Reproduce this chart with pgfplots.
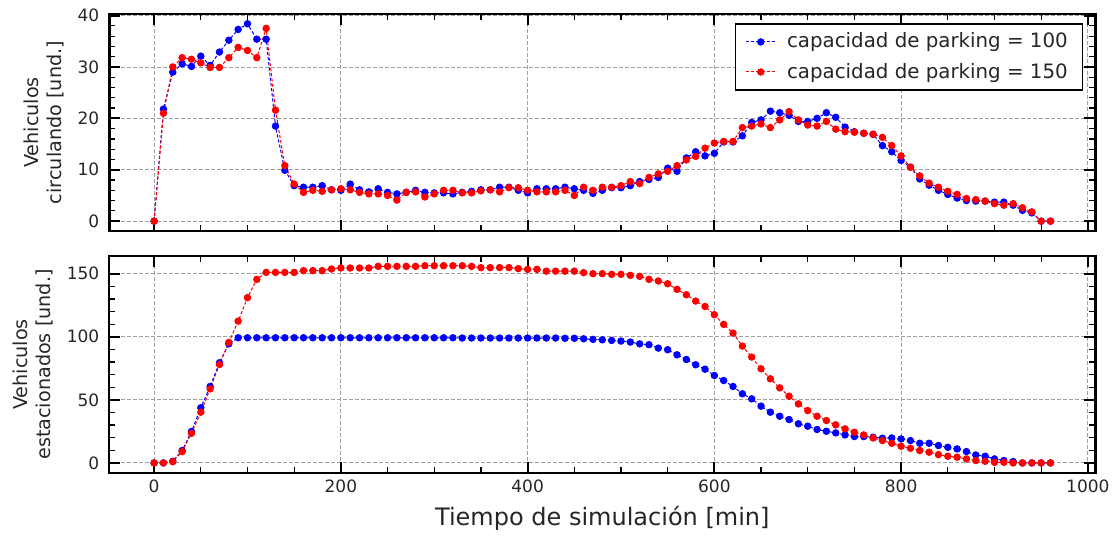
\documentclass[border=0pt]{standalone}
\usepackage{fontspec}
\setmainfont{DejaVu Sans}
\usepackage{pgfplots}
\usepackage{pgfplotstable}
\pgfplotsset{compat=1.18}

\pgfplotstableread{
x y
0 0
10 21.8
20 29.0
30 30.6
40 30.1
50 32.1
60 30.3
70 32.9
80 35.2
90 37.3
100 38.4
110 35.4
120 35.4
130 18.5
140 9.9
150 6.9
160 6.6
170 6.6
180 6.9
190 6.1
200 6.0
210 7.2
220 6.1
230 5.7
240 6.3
250 5.6
260 5.3
270 5.6
280 6.0
290 5.6
300 5.5
310 5.5
320 5.3
330 5.6
340 5.8
350 6.1
360 6.1
370 6.6
380 6.6
390 6.0
400 5.5
410 6.3
420 6.3
430 6.3
440 6.6
450 6.3
460 6.0
470 5.4
480 6.0
490 6.5
500 6.5
510 6.9
520 7.7
530 8.1
540 8.5
550 10.3
560 9.7
570 12.3
580 13.5
590 12.7
600 13.2
610 15.4
620 15.4
630 16.6
640 19.2
650 19.7
660 21.4
670 21.1
680 20.6
690 19.4
700 19.4
710 20.0
720 21.1
730 20.2
740 18.3
750 17.4
760 17.1
770 16.9
780 14.7
790 13.5
800 11.8
810 10.5
820 8.2
830 7.0
840 6.0
850 5.2
860 4.5
870 4.0
880 3.9
890 3.9
900 3.7
910 3.7
920 3.1
930 2.1
940 1.6
950 0
960 0
}\circA

\pgfplotstableread{
x y
0 0
10 21.0
20 30.0
30 31.8
40 31.5
50 30.8
60 29.9
70 29.9
80 31.8
90 33.8
100 33.2
110 31.8
120 37.5
130 21.6
140 10.8
150 7.2
160 5.6
170 6.0
180 5.8
190 6.1
200 6.3
210 6.1
220 5.6
230 5.3
240 5.3
250 5.0
260 4.1
270 5.6
280 5.7
290 4.7
300 5.3
310 6.0
320 6.0
330 5.5
340 5.5
350 5.9
360 6.1
370 5.7
380 6.5
390 6.5
400 6.0
410 5.7
420 5.7
430 5.7
440 6.0
450 5.0
460 6.6
470 6.0
480 6.6
490 6.6
500 6.9
510 7.7
520 7.3
530 8.5
540 9.2
550 9.7
560 10.8
570 11.9
580 12.6
590 14.2
600 15.2
610 15.5
620 15.5
630 18.2
640 18.5
650 18.9
660 18.2
670 19.7
680 21.3
690 19.7
700 18.7
710 18.5
720 19.4
730 17.9
740 17.4
750 17.3
760 17.1
770 16.9
780 16.3
790 14.7
800 12.7
810 10.5
820 8.8
830 7.4
840 6.6
850 5.8
860 5.2
870 4.4
880 4.2
890 3.9
900 3.4
910 3.1
920 3.4
930 2.6
940 1.8
950 0
960 0
}\circB

\pgfplotstableread{
x y
0 0
10 0
20 1.3
30 9.8
40 24.9
50 43.7
60 60.6
70 79.4
80 94.4
90 99.2
100 99.2
110 99.2
120 99.2
130 99.2
140 99.2
150 99.2
160 99.2
170 99.2
180 99.2
190 99.2
200 99.2
210 99.2
220 99.2
230 99.2
240 99.2
250 99.2
260 99.2
270 99.2
280 99.2
290 99.2
300 99.2
310 99.2
320 99.2
330 99.0
340 99.0
350 99.0
360 99.0
370 99.0
380 99.0
390 99.0
400 99.0
410 99.0
420 99.0
430 99.0
440 98.8
450 98.8
460 98.4
470 97.9
480 97.6
490 97.1
500 96.6
510 95.8
520 94.4
530 93.7
540 91.0
550 89.7
560 85.7
570 82.0
580 77.8
590 74.3
600 69.3
610 65.3
620 60.6
630 54.8
640 50.8
650 45.0
660 40.2
670 37.0
680 34.4
690 31.0
700 29.1
710 26.5
720 25.1
730 23.8
740 22.2
750 20.9
760 20.9
770 20.4
780 19.6
790 19.8
800 19.0
810 17.7
820 15.6
830 15.6
840 13.8
850 12.4
860 11.1
870 9.0
880 6.3
890 5.3
900 3.2
910 1.9
920 1.1
930 0
940 0
950 0
960 0
}\parkA

\pgfplotstableread{
x y
0 0
10 0
20 1.0
30 9.0
40 23.5
50 40.2
60 58.7
70 78.0
80 95.5
90 112.4
100 131.0
110 145.5
120 151.0
130 151.0
140 151.0
150 151.0
160 152.4
170 152.4
180 152.4
190 153.7
200 154.5
210 154.5
220 154.5
230 154.5
240 155.8
250 155.8
260 155.8
270 155.8
280 155.8
290 156.3
300 156.3
310 156.3
320 156.3
330 156.3
340 155.8
350 154.8
360 154.8
370 154.8
380 154.8
390 154.0
400 153.4
410 153.4
420 152.0
430 152.0
440 152.0
450 152.0
460 150.8
470 150.0
480 150.0
490 149.5
500 149.5
510 148.7
520 147.9
530 145.5
540 144.2
550 142.0
560 137.6
570 133.3
580 128.3
590 124.0
600 117.5
610 109.8
620 102.9
630 92.6
640 83.9
650 74.6
660 66.7
670 59.5
680 52.9
690 46.8
700 41.5
710 37.0
720 33.6
730 30.2
740 27.0
750 24.3
760 22.2
770 19.8
780 17.7
790 15.6
800 13.2
810 11.6
820 9.8
830 8.5
840 6.6
850 5.3
860 4.5
870 3.2
880 1.9
890 1.3
900 0.5
910 0.5
920 0
930 0
940 0
950 0
960 0
}\parkB

\pgfplotsset{
  myax/.style={
    scale only axis,
    width=493pt, height=108.5pt,
    xmin=-48, xmax=1008,
    xtick={0,200,...,1000},
    minor x tick num=3,
    minor y tick num=4,
    tick align=inside,
    major tick length=5.5pt,
    minor tick length=3pt,
    every major tick/.append style={line width=1pt, black},
    every minor tick/.append style={line width=0.6pt, black},
    axis line style={line width=1.2pt, black},
    grid=major,
    major grid style={dash pattern=on 2pt off 1pt, gray!75, line width=0.45pt},
    tick label style={font=\fontsize{8.5}{10}\selectfont, text=black!85},
    label style={font=\fontsize{9.6}{11.5}\selectfont, text=black!85},
    yticklabel style={xshift=-1.5pt},
    /pgf/number format/assume math mode=true,
    /pgf/number format/set thousands separator={},
    scaled ticks=false,
    ylabel style={align=center},
  },
  blueline/.style={color=blue, line width=0.5pt, dash pattern=on 1.6pt off 1pt,
    mark=*, mark size=1.6pt, mark options={solid, fill=blue, draw=blue}},
  redline/.style={color=red, line width=0.5pt, dash pattern=on 1.6pt off 1pt,
    mark=*, mark size=1.6pt, mark options={solid, fill=red, draw=red}},
}

\begin{document}
\begin{tikzpicture}
\path[use as bounding box] (-54.65pt,7pt) rectangle (504.35pt,-262pt);
\begin{axis}[myax,
  at={(0,0)}, anchor=north west, name=top,
  ymin=-1.92, ymax=40.3,
  ytick={0,10,...,40},
  xticklabels={},
  ylabel={Vehiculos\\circulando [und.]},
  legend style={at={(0.988,0.958)}, anchor=north east, draw=black, line width=0.8pt,
    font=\fontsize{9.9}{11.8}\selectfont, text=black!85, inner xsep=5pt, inner ysep=2pt,
    row sep=1pt, nodes={inner sep=2.5pt},
    /tikz/every odd column/.style={column sep=3pt}},
  legend cell align=left,
  legend image code/.code={\draw[mark repeat=2, mark phase=2] plot coordinates {(0cm,0cm) (0.26cm,0cm) (0.52cm,0cm)};},
]
\addplot[blueline] table[x=x,y=y] {\circA};
\addlegendentry{capacidad de parking = 100}
\addplot[redline] table[x=x,y=y] {\circB};
\addlegendentry{capacidad de parking = 150}
\end{axis}
\begin{axis}[myax,
  at={(0,-121pt)}, anchor=north west,
  ymin=-8, ymax=164,
  ytick={0,50,100,150},
  xlabel={Tiempo de simulación [min]},
  xlabel style={font=\fontsize{12}{14}\selectfont, text=black!85},
  ylabel={Vehiculos\\estacionados [und.]},
]
\addplot[blueline] table[x=x,y=y] {\parkA};
\addplot[redline] table[x=x,y=y] {\parkB};
\end{axis}
\end{tikzpicture}
\end{document}
